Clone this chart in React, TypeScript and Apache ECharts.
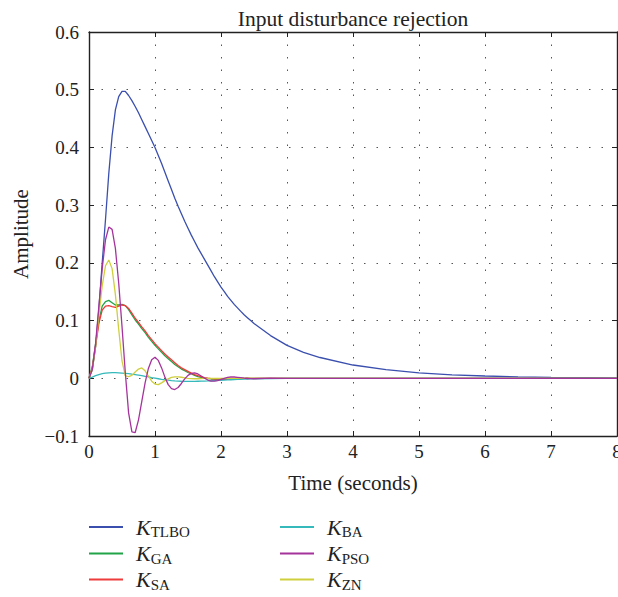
import React, { useEffect, useRef } from "react";
import * as echarts from "echarts";

const TIME = [
  0, 0.05, 0.1, 0.15, 0.2, 0.25, 0.3, 0.35, 0.4, 0.45, 0.5, 0.55, 0.6, 0.65, 0.7, 0.75, 0.8, 0.85, 0.9, 0.95,
  1.0, 1.05, 1.1, 1.15, 1.2, 1.25, 1.3, 1.35, 1.4, 1.45, 1.5, 1.55, 1.6, 1.65, 1.7, 1.75, 1.8, 1.85, 1.9, 1.95,
  2.0, 2.05, 2.1, 2.15, 2.2, 2.25, 2.3, 2.35, 2.4, 2.45, 2.5, 2.75, 3.0, 3.25, 3.5, 4.0, 4.5, 5.0, 5.5, 6.0,
  6.5, 7.0, 7.5, 8.0,
];

const K_TLBO = [
  0, 0.015, 0.055, 0.12, 0.2, 0.275, 0.355, 0.42, 0.465, 0.488, 0.497, 0.497, 0.49, 0.481, 0.471, 0.46, 0.448, 0.436, 0.424, 0.412,
  0.4, 0.386, 0.372, 0.357, 0.342, 0.327, 0.312, 0.298, 0.285, 0.272, 0.26, 0.248, 0.237, 0.226, 0.216, 0.206, 0.196, 0.186, 0.176, 0.167,
  0.158, 0.15, 0.142, 0.135, 0.128, 0.122, 0.116, 0.11, 0.105, 0.1, 0.095, 0.074, 0.057, 0.045, 0.036, 0.023, 0.015, 0.0095, 0.006, 0.004,
  0.0025, 0.0015, 0.001, 0.0005,
];

const K_GA = [
  0, 0.02, 0.06, 0.1, 0.125, 0.133, 0.135, 0.131, 0.127, 0.127, 0.128, 0.126, 0.119, 0.11, 0.101, 0.094, 0.086, 0.079, 0.071, 0.064,
  0.057, 0.051, 0.045, 0.039, 0.034, 0.029, 0.024, 0.02, 0.016, 0.013, 0.01, 0.0075, 0.005, 0.003, 0.0015, 0.0003, -0.0006, -0.0012, -0.0016, -0.0018,
  -0.0018, -0.0016, -0.0013, -0.001, -0.0007, -0.0004, -0.0002, 0, 0.0001, 0, 0, 0, 0, 0, 0, 0, 0, 0, 0, 0,
  0, 0, 0, 0,
];

const K_SA = [
  0, 0.018, 0.056, 0.095, 0.118, 0.125, 0.126, 0.124, 0.123, 0.125, 0.127, 0.126, 0.121, 0.113, 0.104, 0.097, 0.089, 0.082, 0.074, 0.067,
  0.06, 0.054, 0.048, 0.042, 0.037, 0.032, 0.027, 0.022, 0.018, 0.015, 0.012, 0.009, 0.0065, 0.0045, 0.0027, 0.0012, 0.0002, -0.0006, -0.0012, -0.0015,
  -0.0016, -0.0015, -0.0013, -0.001, -0.0007, -0.0004, -0.0002, 0, 0.0001, 0, 0, 0, 0, 0, 0, 0, 0, 0, 0, 0,
  0, 0, 0, 0,
];

const K_BA = [
  0, 0.002, 0.0045, 0.0065, 0.008, 0.009, 0.0095, 0.0097, 0.0097, 0.0095, 0.009, 0.0085, 0.008, 0.0072, 0.0065, 0.0055, 0.0045, 0.0035, 0.0025, 0.0012,
  0.0002, -0.0008, -0.0018, -0.0026, -0.0033, -0.004, -0.0045, -0.0049, -0.0051, -0.0052, -0.0053, -0.0053, -0.0052, -0.0051, -0.005, -0.0048, -0.0046, -0.0043, -0.004, -0.0037,
  -0.0034, -0.0031, -0.0028, -0.0025, -0.0022, -0.002, -0.0017, -0.0015, -0.0013, -0.0011, -0.001, -0.0005, -0.0002, 0, 0, 0, 0, 0, 0, 0,
  0, 0, 0, 0,
];

const K_PSO = [
  0, 0.015, 0.06, 0.125, 0.19, 0.24, 0.262, 0.258, 0.225, 0.165, 0.09, 0.01, -0.06, -0.093, -0.094, -0.072, -0.04, -0.008, 0.017, 0.032,
  0.0365, 0.031, 0.018, 0.002, -0.011, -0.018, -0.0195, -0.016, -0.009, -0.001, 0.005, 0.0085, 0.0092, 0.0075, 0.004, 0.0002, -0.003, -0.0048, -0.005, -0.004,
  -0.002, 0, 0.0015, 0.0022, 0.0022, 0.0017, 0.001, 0.0002, -0.0004, -0.0007, -0.0008, 0.0002, 0, 0, 0, 0, 0, 0, 0, 0,
  0, 0, 0, 0,
];

const K_ZN = [
  0, 0.015, 0.055, 0.11, 0.16, 0.195, 0.205, 0.19, 0.145, 0.085, 0.03, 0.004, 0.003, 0.005, 0.011, 0.016, 0.018, 0.013, 0.004, -0.005,
  -0.01, -0.011, -0.008, -0.004, -0.001, 0.0015, 0.0025, 0.0025, 0.0018, 0.0008, 0, -0.0005, -0.0008, -0.0008, -0.0006, -0.0003, 0, 0, 0, 0,
  0, 0, 0, 0, 0, 0, 0, 0, 0, 0, 0, 0, 0, 0, 0, 0, 0, 0, 0, 0,
  0, 0, 0, 0,
];

const SERIES_NAMES = ["TLBO", "GA", "SA", "BA", "PSO", "ZN"];
const SERIES_VALUES = [K_TLBO, K_GA, K_SA, K_BA, K_PSO, K_ZN];
const SERIES_COLORS = ["#3a4fae", "#21a447", "#ee3b3b", "#35b9bb", "#a5339c", "#cfcf3e"];
const DRAW_ORDER = [0, 1, 2, 3, 5, 4];

const X_TICKS = { min: 0, max: 8, interval: 1 };
const Y_TICKS = { min: -0.1, max: 0.6, interval: 0.1 };

const FONT = "'Liberation Serif', 'DejaVu Serif', serif";
const INK = "#222";

function fmtY(v: number): string {
  const r = Math.round(v * 10) / 10;
  if (Math.abs(r) < 1e-9) return "0";
  if (r < 0) return "\u2212" + Math.abs(r).toFixed(1);
  return r.toFixed(1);
}

export default function App() {
  const ref = useRef<HTMLDivElement>(null);
  useEffect(() => {
    if (!ref.current) return;
    const chart = echarts.init(ref.current, undefined, { renderer: "svg" });
    const grid = { left: 89, top: 32, right: 1, bottom: 161, outerBoundsMode: "none", containLabel: false };
    const tick = { show: true, inside: true, length: 5, lineStyle: { color: INK, width: 1 } };
    const axisLine = { show: true, onZero: false, lineStyle: { color: INK, width: 1.4 } };
    const split = { show: true, lineStyle: { color: "#555", width: 1, type: [1.5, 11] as any } };
    const rich = {
      k: { fontFamily: FONT, fontSize: 22, fontStyle: "italic", color: INK, lineHeight: 20 },
      s: { fontFamily: FONT, fontSize: 15, color: INK, lineHeight: 10, padding: [10, 0, 0, 0] },
    };
    const legendBase = {
      orient: "vertical",
      padding: 0,
      itemGap: 0,
      itemWidth: 34,
      itemHeight: 2,
      icon: "rect",
      formatter: (n: string) => `{k|K}{s|${n}}`,
      textStyle: { fontFamily: FONT, color: INK, padding: [0, 0, 0, 8], rich },
    };
    const legendLefts = [89, 89, 89, 280, 280, 280];
    const legendTops = [514.5, 541, 567, 514.5, 541, 567];
    chart.setOption({
      animation: false,
      backgroundColor: "#fff",
      title: {
        text: "Input disturbance rejection",
        left: 353,
        textAlign: "center",
        top: 8,
        padding: 0,
        textStyle: { fontFamily: FONT, fontSize: 21.5, fontWeight: "normal", color: INK },
      },
      grid,
      legend: SERIES_NAMES.map((n, i) => ({
        ...legendBase,
        left: legendLefts[i],
        top: legendTops[i],
        data: [n],
      })),
      xAxis: [
        {
          type: "value",
          ...X_TICKS,
          position: "bottom",
          name: "Time (seconds)",
          nameLocation: "middle",
          nameGap: 36,
          nameTextStyle: { fontFamily: FONT, fontSize: 21, color: INK },
          axisLine,
          axisTick: tick,
          splitLine: split,
          axisLabel: { fontFamily: FONT, fontSize: 19, color: INK, margin: 6, showMaxLabel: true },
        },
        {
          type: "value",
          ...X_TICKS,
          position: "top",
          axisLine,
          axisTick: tick,
          splitLine: { show: false },
          axisLabel: { show: false },
        },
      ],
      yAxis: [
        {
          type: "value",
          ...Y_TICKS,
          position: "left",
          name: "Amplitude",
          nameLocation: "middle",
          nameGap: 58,
          nameTextStyle: { fontFamily: FONT, fontSize: 21, color: INK },
          axisLine,
          axisTick: tick,
          splitLine: split,
          axisLabel: { fontFamily: FONT, fontSize: 19, color: INK, margin: 10, formatter: fmtY },
        },
        {
          type: "value",
          ...Y_TICKS,
          position: "right",
          axisLine,
          axisTick: tick,
          splitLine: { show: false },
          axisLabel: { show: false },
        },
      ],
      series: DRAW_ORDER.map((i) => ({
        name: SERIES_NAMES[i],
        type: "line",
        xAxisIndex: 0,
        yAxisIndex: 0,
        showSymbol: false,
        symbol: "none",
        data: TIME.map((t, j) => [t, SERIES_VALUES[i][j]]),
        lineStyle: { color: SERIES_COLORS[i], width: 1.3 },
        itemStyle: { color: SERIES_COLORS[i] },
      })),
    });
    return () => chart.dispose();
  }, []);
  return (
    <div
      ref={ref}
      style={{ position: "fixed", left: 0, top: 0, width: 618, height: 597, background: "#fff" }}
    />
  );
}
